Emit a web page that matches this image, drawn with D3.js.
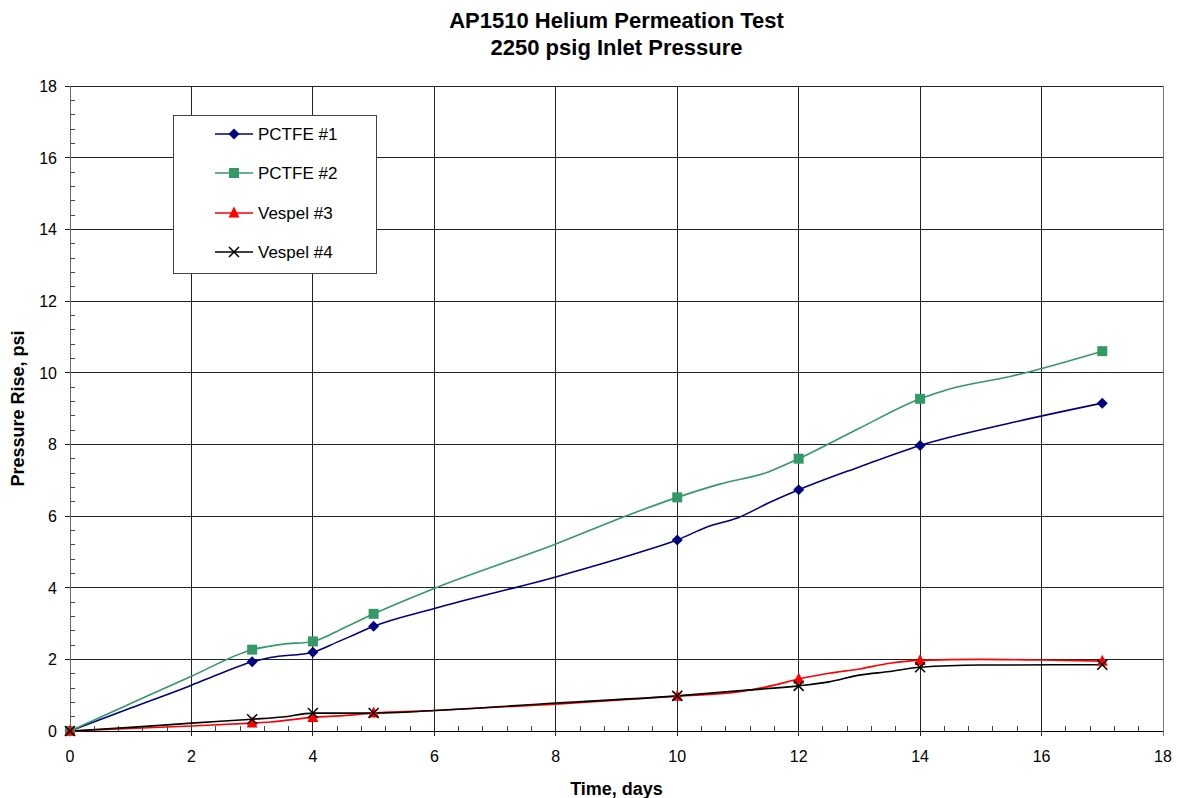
<!DOCTYPE html>
<html><head><meta charset="utf-8">
<script src="https://cdn.jsdelivr.net/npm/d3@7"></script>
<style>body{margin:0;background:#fff;}svg{display:block;font-family:"Liberation Sans",Arial,sans-serif;}</style>
</head><body><svg id="c" width="1179" height="798"></svg>
<script>
const titleLines = ["AP1510 Helium Permeation Test", "2250 psig Inlet Pressure"];
const xLabel = "Time, days";
const yLabel = "Pressure Rise, psi";
const xTicks = [0,2,4,6,8,10,12,14,16,18];
const yTicks = [0,2,4,6,8,10,12,14,16,18];
const markerDays = [0,3,4,5,10,12,14,17];

const pctfe1Days = [0,1,2,2.5,3,3.3,4,4.4,4.7,5,6,8,9.5,10,10.5,11,11.5,12,13,14,15.5,17];
const pctfe1Vals = [0,0.64,1.28,1.62,1.93,2.05,2.2,2.48,2.7,2.92,3.42,4.3,5.05,5.33,5.7,5.95,6.36,6.73,7.37,7.97,8.6,9.15];
const pctfe2Days = [0,1,2,3,3.5,4,4.5,5,6,8,9.2,10,10.7,11.5,12,13,14,14.5,15.5,17];
const pctfe2Vals = [0,0.77,1.53,2.27,2.42,2.5,2.87,3.27,3.98,5.22,6.03,6.52,6.89,7.23,7.6,8.45,9.27,9.55,9.9,10.6];
const vespel3Days = [0,1,2,3,3.3,4,4.5,5,6,8,10,11,11.6,12,12.5,13,13.5,14,15,16,17];
const vespel3Vals = [0,0.07,0.14,0.22,0.25,0.38,0.43,0.5,0.57,0.75,0.97,1.09,1.28,1.45,1.61,1.73,1.89,1.97,2.0,1.98,1.95];
const vespel4Days = [0,1,2,3,3.5,4,4.5,5,6,8,10,11,12,12.5,13,13.5,14,15,17];
const vespel4Vals = [0,0.1,0.22,0.33,0.39,0.5,0.5,0.5,0.57,0.78,0.98,1.12,1.26,1.37,1.56,1.66,1.78,1.84,1.85];

const seriesNames = ["PCTFE #1","PCTFE #2","Vespel #3","Vespel #4"];
const seriesColors = ["#000080","#339966","#ff0000","#000000"];
const seriesMarkers = ["diamond","square","triangle","x"];
const seriesDays = [pctfe1Days,pctfe2Days,vespel3Days,vespel4Days];
const seriesVals = [pctfe1Vals,pctfe2Vals,vespel3Vals,vespel4Vals];

const svg = d3.select("#c");
const L=70, R=1163, T=86, B=731;
const x = d3.scaleLinear().domain([0,18]).range([L,R]);
const y = d3.scaleLinear().domain([0,18]).range([B,T]);

// title
svg.append("g").selectAll("text").data(titleLines).join("text")
  .attr("x",(L+R)/2).attr("y",(d,i)=>28+i*27).attr("text-anchor","middle")
  .attr("font-weight","bold").attr("font-size",22).text(d=>d);

// grid
const g = svg.append("g").attr("shape-rendering","crispEdges");
g.selectAll(".vg").data(xTicks.slice(1)).join("line")
  .attr("x1",d=>x(d)).attr("x2",d=>x(d)).attr("y1",T).attr("y2",B+5)
  .attr("stroke",d=>d===18?"#777":"#222").attr("stroke-width",1);
g.selectAll(".hg").data(yTicks.slice(1)).join("line")
  .attr("x1",L-5).attr("x2",R).attr("y1",d=>y(d)).attr("y2",d=>y(d))
  .attr("stroke","#222").attr("stroke-width",1);

// axes with minor ticks
const minor = d3.range(0,18.001,0.4).filter(v=>Math.abs(v/2-Math.round(v/2))>1e-6);
g.selectAll(".mx").data(minor).join("line")
  .attr("x1",d=>x(d)).attr("x2",d=>x(d)).attr("y1",B).attr("y2",B-5).attr("stroke","#444");
g.selectAll(".my").data(minor).join("line")
  .attr("x1",L).attr("x2",L+5).attr("y1",d=>y(d)).attr("y2",d=>y(d)).attr("stroke","#444");
g.append("line").attr("x1",L).attr("x2",L).attr("y1",T).attr("y2",B+5).attr("stroke","#666");
g.append("line").attr("x1",L-5).attr("x2",R).attr("y1",B).attr("y2",B).attr("stroke","#000");

// tick labels
svg.append("g").selectAll("text").data(xTicks).join("text")
  .attr("x",d=>x(d)).attr("y",B+31).attr("text-anchor","middle").attr("font-size",16).text(d=>d);
svg.append("g").selectAll("text").data(yTicks).join("text")
  .attr("x",L-13).attr("y",d=>y(d)+6).attr("text-anchor","end").attr("font-size",16).text(d=>d);

svg.append("text").attr("x",(L+R)/2).attr("y",795).attr("text-anchor","middle")
  .attr("font-weight","bold").attr("font-size",18).text(xLabel);
svg.append("text").attr("transform",`translate(24,${(T+B)/2}) rotate(-90)`).attr("text-anchor","middle")
  .attr("font-weight","bold").attr("font-size",18).text(yLabel);

function drawMarker(sel, type, color, size){
  if(type==="diamond") sel.append("path").attr("d",`M0,${-size}L${size},0L0,${size}L${-size},0Z`).attr("fill",color);
  else if(type==="square") sel.append("rect").attr("x",-size+0.5).attr("y",-size+0.5).attr("width",2*size-1).attr("height",2*size-1).attr("fill",color);
  else if(type==="triangle") sel.append("path").attr("d",`M0,${-size-1}L${size},${size-1}L${-size},${size-1}Z`).attr("fill",color);
  else { const s=size-0.5; sel.append("path").attr("d",`M${-s},${-s}L${s},${s}M${-s},${s}L${s},${-s}`).attr("stroke",color).attr("stroke-width",1.5).attr("fill","none"); }
}

const line = d3.line().x(d=>x(d[0])).y(d=>y(d[1])).curve(d3.curveMonotoneX);
const plot = svg.append("g");
seriesNames.forEach((name,i)=>{
  const pts = seriesDays[i].map((d,j)=>[d,seriesVals[i][j]]);
  plot.append("path").datum(pts).attr("d",line).attr("fill","none")
    .attr("stroke",seriesColors[i]).attr("stroke-width",1.6);
});
seriesNames.forEach((name,i)=>{
  const pts = seriesDays[i].map((d,j)=>[d,seriesVals[i][j]]).filter(p=>markerDays.includes(p[0]));
  pts.forEach(p=>{
    const m = plot.append("g").attr("transform",`translate(${x(p[0])},${y(p[1])})`);
    drawMarker(m, seriesMarkers[i], seriesColors[i], 5.5);
  });
});

// legend
const lg = svg.append("g");
lg.append("rect").attr("x",173.5).attr("y",115.5).attr("width",203).attr("height",158)
  .attr("fill","#fff").attr("stroke","#444").attr("stroke-width",1);
seriesNames.forEach((name,i)=>{
  const yy = [134,173,213,252][i];
  lg.append("line").attr("x1",215).attr("x2",253).attr("y1",yy).attr("y2",yy)
    .attr("stroke",seriesColors[i]).attr("stroke-width",1.6);
  const m = lg.append("g").attr("transform",`translate(234,${yy})`);
  drawMarker(m, seriesMarkers[i], seriesColors[i], 5.5);
  lg.append("text").attr("x",258).attr("y",yy+6).attr("font-size",17).text(name);
});
</script></body></html>
